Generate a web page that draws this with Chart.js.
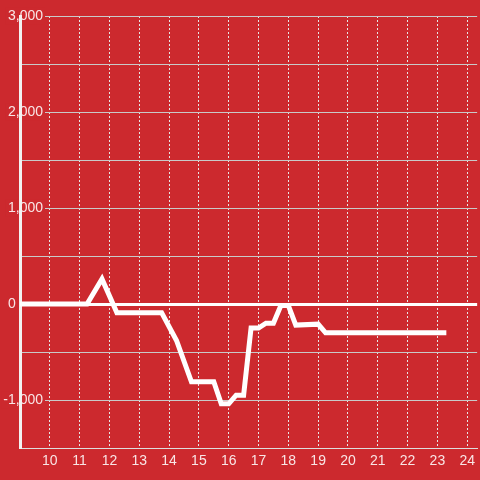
<!DOCTYPE html>
<html>
<head>
<meta charset="utf-8">
<script src="https://cdn.jsdelivr.net/npm/chart.js@4/dist/chart.umd.min.js"></script>
<style>
  html, body { margin: 0; padding: 0; background: #cc292e; }
  canvas { display: block; }
</style>
</head>
<body>
<canvas id="balanceChart" width="480" height="480"></canvas>
<script>
// hour of day and running value
const hours = [9, 11.25, 11.75, 12.25, 13.75, 14.25, 14.75, 15.5, 15.75, 16, 16.25, 16.5, 16.75, 17, 17.25, 17.5, 17.75, 18, 18.25, 19, 19.25, 23.3];
const values = [0, 0, 260, -90, -90, -380, -810, -810, -1040, -1040, -950, -950, -250, -250, -200, -200, -15, -15, -220, -210, -300, -300];
const xTicks = [10, 11, 12, 13, 14, 15, 16, 17, 18, 19, 20, 21, 22, 23, 24];

const RED = "#cc292e";
const LABEL = "rgba(255,255,255,0.88)";
const FONT = { family: "'Liberation Sans', Arial, sans-serif", size: 14 };

// paint the red background behind everything
const background = {
  id: "background",
  beforeDraw: (chart) => {
    const c = chart.ctx;
    c.save();
    c.fillStyle = RED;
    c.fillRect(0, 0, chart.width, chart.height);
    c.restore();
  },
};

// widest y label, so the right-aligned labels end just left of the grid start
const measure = document.createElement("canvas").getContext("2d");
measure.font = "14px 'Liberation Sans', Arial, sans-serif";
const widest = measure.measureText("-1,000").width;

const ctx = document.getElementById("balanceChart").getContext("2d");

new Chart(ctx, {
  type: "line",
  data: {
    datasets: [
      {
        data: hours.map((h, i) => ({ x: h, y: values[i] })),
        borderColor: "#ffffff",
        borderWidth: 5,
        pointRadius: 0,
        tension: 0,
        fill: false,
      },
    ],
  },
  options: {
    responsive: false,
    animation: false,
    layout: { padding: { top: 16, right: 0, bottom: 0, left: 0 } },
    plugins: { legend: { display: false }, tooltip: { enabled: false } },
    scales: {
      x: {
        type: "linear",
        min: 9,
        max: 24.333,
        afterBuildTicks: (scale) => {
          scale.ticks = xTicks.map((v) => ({ value: v }));
        },
        afterFit: (scale) => {
          scale.height = 32;
        },
        grid: {
          color: "#e6e6e6",
          lineWidth: 1,
          drawTicks: false,
        },
        border: { color: "#dddddd", width: 1, dash: [2, 2] },
        ticks: {
          color: LABEL,
          font: FONT,
          padding: 5,
          maxRotation: 0,
          autoSkip: false,
          callback: (v) => String(v),
        },
      },
      y: {
        min: -1500,
        max: 3000,
        weight: 1,
        afterFit: (scale) => {
          scale.width = 20;
        },
        grid: {
          color: (c) => (c.tick.value === 0 ? "#ffffff" : "#c9c9c9"),
          lineWidth: (c) => (c.tick.value === 0 ? 3 : 1),
          drawTicks: false,
        },
        border: { display: false },
        ticks: {
          stepSize: 500,
          color: LABEL,
          font: FONT,
          mirror: true,
          crossAlign: "far",
          padding: 23 - widest,
          showLabelBackdrop: true,
          backdropColor: (c) =>
            c.tick.value !== 0 && c.tick.value % 1000 === 0 ? RED : "rgba(0,0,0,0)",
          backdropPadding: { top: 0, bottom: 0, left: 2, right: 2 },
          callback: (v) => (v !== 0 && v % 1000 === 0 ? v.toLocaleString("en-US") : ""),
        },
      },
      // second left scale, next to the plot: white axis line and the "0" label
      yAxisLine: {
        axis: "y",
        position: "left",
        min: -1500,
        max: 3000,
        weight: 0,
        afterFit: (scale) => {
          scale.width = 0;
        },
        grid: { display: false, drawTicks: false },
        border: { color: "#f2f2f2", width: 3 },
        ticks: {
          stepSize: 500,
          color: LABEL,
          font: FONT,
          mirror: true,
          crossAlign: "near",
          padding: -12,
          callback: (v) => (v === 0 ? "0" : ""),
        },
      },
      // solid light line along the bottom of the plot
      xBase: {
        axis: "x",
        type: "linear",
        position: "bottom",
        min: 9,
        max: 24.333,
        weight: 0,
        afterFit: (scale) => {
          scale.height = 0;
        },
        grid: { display: false, drawTicks: false },
        border: { color: "#dddddd", width: 1 },
        ticks: { display: false },
      },
    },
  },
  plugins: [background],
});
</script>
</body>
</html>
